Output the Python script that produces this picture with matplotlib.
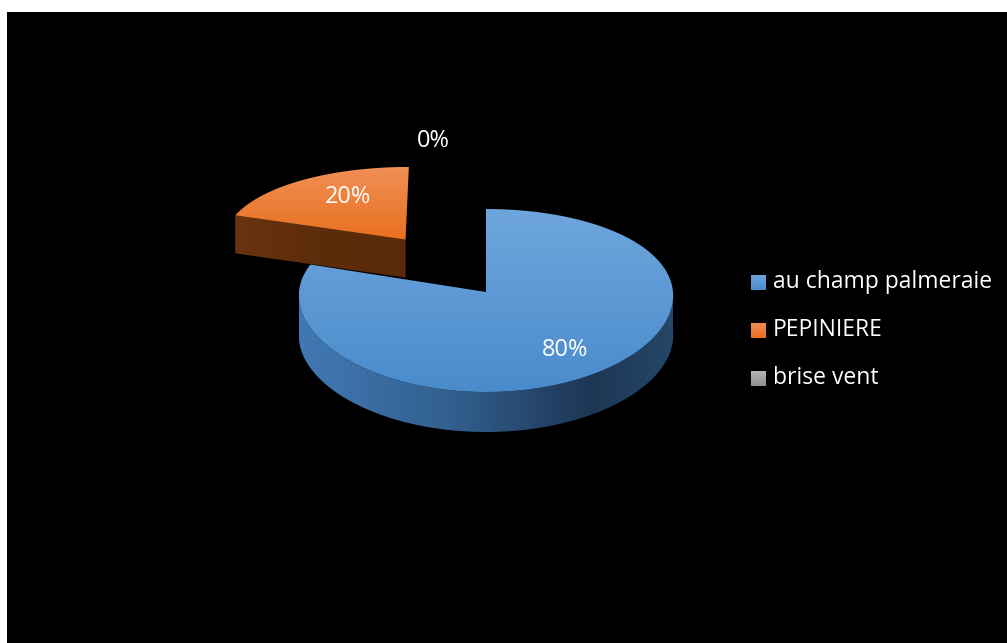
import numpy as np
import matplotlib.pyplot as plt
from matplotlib.patches import Polygon, Rectangle
from matplotlib.colors import LinearSegmentedColormap

categories = ['au champ palmeraie', 'PEPINIERE', 'brise vent']
values = [80, 20, 0]
pct_labels = ['80%', '20%', '0%']
explode = [0.0, 0.75, 0.0]

# colours: top face (light, dark), side face (stops)
top_colors = [('#6ea6dc', '#4a8bcc'), ('#f18f55', '#e8701f'), ('#b8b8b8', '#8f8f8f')]
side_colors = [[(0, '#4179b4'), (0.4, '#32608f'), (0.78, '#1d3654'), (1, '#264769')],
               [(0, '#6a340f'), (0.5, '#5c2c0b'), (1, '#5a2a0a')],
               [(0, '#6f6f6f'), (0.5, '#505050'), (1, '#4a4a4a')]]

# pie geometry in pixel space
CX, CY = 486, 292
RX, RY = 187, 91.5
CURVE = 8.5
PERSP = 0.04
DEPTH = 40

plt.rcParams['font.family'] = ['Open Sans', 'DejaVu Sans']


def proj(u, v, z=0.0):
    u = np.asarray(u, dtype=float)
    v = np.asarray(v, dtype=float)
    x = CX + RX * u * (1 - PERSP * v)
    y = CY - RY * v + CURVE * v ** 2 + z
    return x, y


def grad_fill(ax, xs, ys, colors, axis='y', zorder=2):
    xs = np.asarray(xs)
    ys = np.asarray(ys)
    poly = Polygon(np.column_stack([xs, ys]), closed=True,
                   facecolor='none', edgecolor='none', zorder=zorder)
    ax.add_patch(poly)
    cmap = LinearSegmentedColormap.from_list('g', colors)
    ramp = np.linspace(0, 1, 256)
    if axis == 'y':
        arr = np.repeat(ramp[:, None], 2, axis=1)
    else:
        arr = np.repeat(ramp[None, :], 2, axis=0)
    im = ax.imshow(arr, cmap=cmap, extent=[xs.min(), xs.max(), ys.max(), ys.min()],
                   origin='upper', aspect='auto', interpolation='bilinear', zorder=zorder)
    im.set_clip_path(poly)


fig = plt.figure(figsize=(10.07, 6.43), dpi=100, facecolor='white')
ax = fig.add_axes([0, 0, 1, 1])
ax.add_patch(Rectangle((7, 12), 1000, 631, facecolor='black', edgecolor='none', zorder=0))

# slices go clockwise from 12 o'clock
total = sum(values)
start = 90.0
slices = []
for val in values:
    sweep = 360.0 * val / total
    slices.append((start - sweep, start))   # counter-clockwise range in degrees
    start -= sweep

for z, i in enumerate([0, 2, 1]):
    a0, a1 = slices[i]
    if a1 - a0 <= 0:
        continue
    mid = np.radians((a0 + a1) / 2)
    du, dv = explode[i] * np.cos(mid), explode[i] * np.sin(mid)
    zo = 2 + 3 * z

    # outer wall: only the front half (sin <= 0) is seen
    ts = np.radians(np.linspace(a0, a1, 800))
    ts = ts[np.sin(ts) <= 0]
    if len(ts) > 1:
        xt, yt = proj(du + np.cos(ts), dv + np.sin(ts))
        xb, yb = proj(du + np.cos(ts), dv + np.sin(ts), DEPTH)
        grad_fill(ax, np.r_[xt, xb[::-1]], np.r_[yt, yb[::-1]], side_colors[i], axis='x', zorder=zo)

    # radial walls facing the viewer
    xv, yv = proj(du, dv)
    for ang, sgn in ((np.radians(a1), 1), (np.radians(a0), -1)):
        if np.sin(ang + sgn * np.pi / 2) < 0:
            xe, ye = proj(du + np.cos(ang), dv + np.sin(ang))
            grad_fill(ax, [xv, xe, xe, xv], [yv, ye, ye + DEPTH * 0.95, yv + DEPTH * 0.95],
                      side_colors[i], axis='x', zorder=zo + 1)

    # top face
    th = np.radians(np.linspace(a0, a1, 300))
    xa, ya = proj(du + np.cos(th), dv + np.sin(th))
    grad_fill(ax, np.r_[xv, xa], np.r_[yv, ya], top_colors[i], axis='y', zorder=zo + 2)

# percentage labels
label_xy = [(565, 350), (348, 197), (433, 141)]
for (lx, ly), txt in zip(label_xy, pct_labels):
    ax.text(lx, ly, txt, color='white', fontsize=17, ha='center', va='center', zorder=20)

# legend
for k, name in enumerate(categories):
    y0 = 275 + 48 * k
    grad_fill(ax, [751, 766, 766, 751], [y0, y0, y0 + 15.5, y0 + 15.5],
              top_colors[k], axis='y', zorder=20)
    ax.text(773, y0 + 7, name, color='white', fontsize=16.5, ha='left', va='center', zorder=20)

ax.set_xlim(0, 1007)
ax.set_ylim(643, 0)
ax.axis('off')

plt.savefig('out.png', dpi=100, facecolor='white')
